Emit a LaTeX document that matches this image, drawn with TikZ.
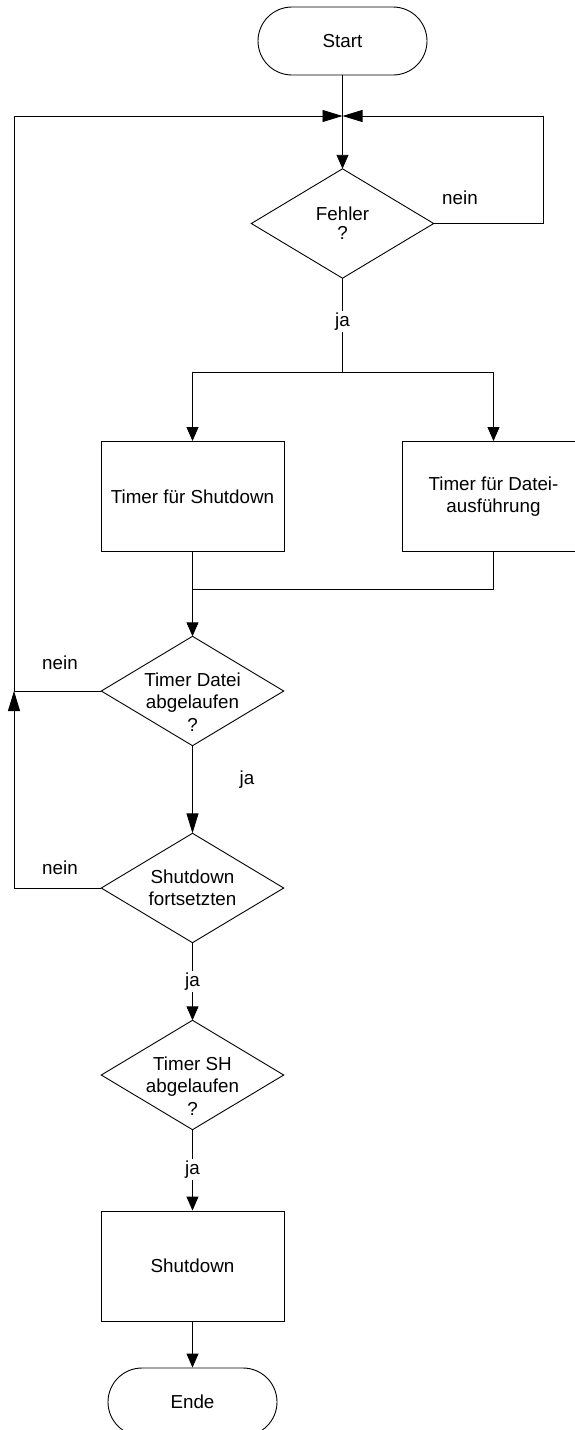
\documentclass[tikz,border=0pt]{standalone}
\usepackage{fontspec}
\setmainfont{Liberation Sans}
\usetikzlibrary{arrows.meta}
\begin{document}
\begin{tikzpicture}[x=1pt,y=-1pt,
  every node/.style={font=\fontsize{18.8}{22.5}\selectfont, text=black},
  line/.style={draw=black, line width=0.9pt},
  arr/.style={line, -{Triangle[length=14pt,width=12pt]}},
  longarr/.style={line, -{Triangle[length=20pt,width=12pt]}},
  terminal/.style={draw=black, line width=0.9pt, rectangle, rounded corners=34pt, minimum width=169pt, minimum height=68pt, inner sep=0pt},
  process/.style={draw=black, line width=0.9pt, rectangle, minimum width=183pt, minimum height=110pt, align=center, inner sep=0pt},
  decision/.style={rectangle, minimum width=182pt, minimum height=109pt, align=center, inner sep=0pt},
  dtext/.style={align=center, inner sep=0pt},
  lbl/.style={inner sep=1pt},
  gaplbl/.style={fill=white, inner sep=2pt}
]
\useasboundingbox (0,0) rectangle (574,1430);

% nodes
\node[terminal] (start) at (342.5,41) {Start};
\node[decision, font=\fontsize{18.8}{19}\selectfont] (d1) at (342.5,223.5) {Fehler\\?};
\node[process] (p1) at (192.5,496.5) {Timer für Shutdown};
\node[process] (p2) at (493.5,496.5) {Timer für Datei-\\ausführung};
\node[decision] (d2) at (192.5,691) {};
\node[dtext] (d2t) at ([yshift=-11pt]d2.center) {Timer Datei\\abgelaufen\\?};
\node[decision] (d3) at (192.5,888) {Shutdown\\fortsetzten};
\node[decision] (d4) at (192.5,1075) {};
\node[dtext] (d4t) at ([yshift=-11pt]d4.center) {Timer SH\\abgelaufen\\?};
\node[process] (p3) at (192.5,1266) {Shutdown};
\node[terminal] (ende) at (192.5,1402) {Ende};

% diamond outlines
\foreach \d in {d1,d2,d3,d4}{
  \draw[line] (\d.north) -- (\d.east) -- (\d.south) -- (\d.west) -- cycle;
}

% coordinates
\coordinate (M) at (342.5,116);
\coordinate (R1) at (543,223.5);
\coordinate (R2) at (543,116);
\coordinate (S) at (342.5,372);
\coordinate (SL) at (192.5,372);
\coordinate (SR) at (493.5,372);
\coordinate (J) at (192.5,589);
\coordinate (JR) at (493.5,589);
\coordinate (L1) at (14,888);
\coordinate (L2) at (14,691);
\coordinate (L3) at (14,116);

% connectors
\draw[line] (start.south) -- (M);
\draw[arr] (M) -- (d1.north);
\draw[longarr] (d1.east) -- (R1) -- (R2) -- (M);
\node[lbl] (n1) at (460,198) {nein};

\draw[line] (d1.south) -- (S) node[gaplbl, pos=0.46] (j1) {ja};
\draw[line] (SL) -- (SR);
\draw[arr] (SL) -- (p1.north);
\draw[arr] (SR) -- (p2.north);

\draw[line] (p1.south) -- (J);
\draw[line] (p2.south) -- (JR) -- (J);
\draw[arr] (J) -- (d2.north);

\draw[longarr] (d2.west) -- (L2) -- (L3) -- (M);
\node[lbl] (n2) at (60,663) {nein};
\draw[longarr] (d3.west) -- (L1) -- (L2);
\node[lbl] (n3) at (60,868) {nein};

\draw[longarr] (d2.south) -- (d3.north);
\node[lbl] (j2) at (247,780) {ja};

\draw[arr] (d3.south) -- (d4.north) node[gaplbl, pos=0.5] (j3) {ja};
\draw[arr] (d4.south) -- (p3.north) node[gaplbl, pos=0.49] (j4) {ja};
\draw[arr] (p3.south) -- (ende.north);
\end{tikzpicture}
\end{document}
